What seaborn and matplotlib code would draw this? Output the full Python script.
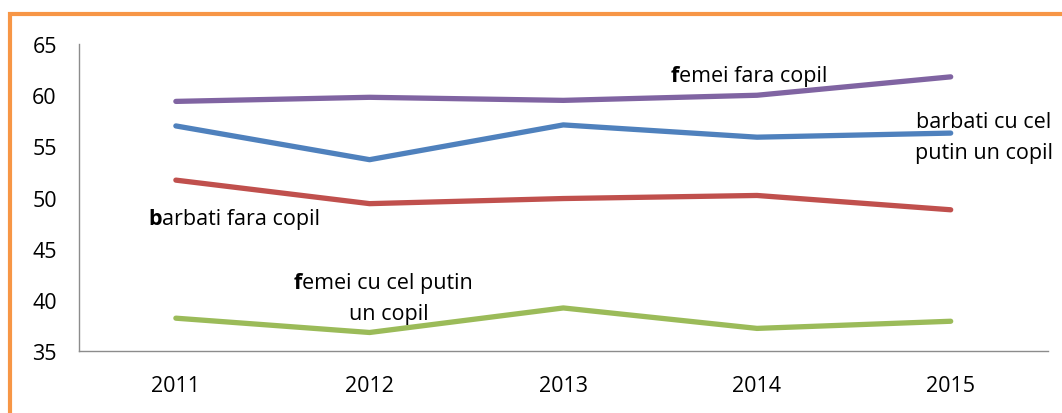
import matplotlib
matplotlib.use("Agg")
import matplotlib.pyplot as plt
import matplotlib.patches as mpatches
import seaborn as sns
import pandas as pd

years = ["2011", "2012", "2013", "2014", "2015"]
femei_fara_copil = [59.4, 59.8, 59.5, 60.0, 61.8]
barbati_cu_copil = [57.0, 53.7, 57.1, 55.9, 56.3]
barbati_fara_copil = [51.7, 49.4, 49.9, 50.2, 48.8]
femei_cu_copil = [38.2, 36.8, 39.2, 37.2, 37.9]

series_names = ["femei fara copil", "barbati cu cel putin un copil",
                "barbati fara copil", "femei cu cel putin un copil"]
series_values = [femei_fara_copil, barbati_cu_copil, barbati_fara_copil, femei_cu_copil]
colors = ["#8064A2", "#4F81BD", "#C0504D", "#9BBB59"]

rows = []
for name, vals in zip(series_names, series_values):
    for i, (y, v) in enumerate(zip(years, vals)):
        rows.append({"idx": i, "year": y, "value": v, "series": name})
df = pd.DataFrame(rows)

sns.set_style("white")
plt.rcParams['font.family'] = ['Open Sans', 'DejaVu Sans']
plt.rcParams['text.color'] = 'black'

FS = 15.5

fig = plt.figure(figsize=(10.62, 4.14), dpi=100)
ax = fig.add_axes([0.0744, 0.150, 0.912, 0.741])

sns.lineplot(data=df, x="idx", y="value", hue="series", palette=colors,
             hue_order=series_names, linewidth=3.8, legend=False, ax=ax,
             solid_capstyle="round")

ax.set_xlim(-0.5, 4.5)
ax.set_ylim(35, 65)
ax.set_xticks(range(len(years)))
ax.set_xticklabels(years)
ax.set_yticks([35, 40, 45, 50, 55, 60, 65])
ax.set_xlabel("")
ax.set_ylabel("")
ax.tick_params(axis="both", length=0, labelsize=FS, colors="black")
ax.tick_params(axis="y", pad=16)
ax.tick_params(axis="x", pad=17)
for s in ["top", "right"]:
    ax.spines[s].set_visible(False)
for s in ["left", "bottom"]:
    ax.spines[s].set_color("#8C8C8C")
    ax.spines[s].set_linewidth(1.0)

def label(x, y, first, rest):
    t = ax.text(x, y, first, fontsize=FS, fontweight="bold", va="baseline", ha="left",
                color="black")
    ax.annotate(rest, xy=(1, 0), xycoords=t, fontsize=FS, va="bottom", ha="left",
                color="black")

label(2.555, 61.4, "f", "emei fara copil")
label(-0.14, 47.4, "b", "arbati fara copil")
ax.text(4.17, 55.9, "barbati cu cel\nputin un copil", fontsize=FS, ha="center",
        va="center", linespacing=1.6, color="black")
label(0.61, 41.2, "f", "emei cu cel putin")
ax.text(1.1, 38.1, "un copil", fontsize=FS, ha="center", va="baseline", color="black")

border = mpatches.Rectangle((10 / 1062, -0.2), 1.2, 1.2 - 15 / 414,
                            transform=fig.transFigure, fill=False,
                            edgecolor="#F79646", linewidth=3.0, clip_on=False)
fig.patches.append(border)

fig.savefig("out.png", dpi=100)
